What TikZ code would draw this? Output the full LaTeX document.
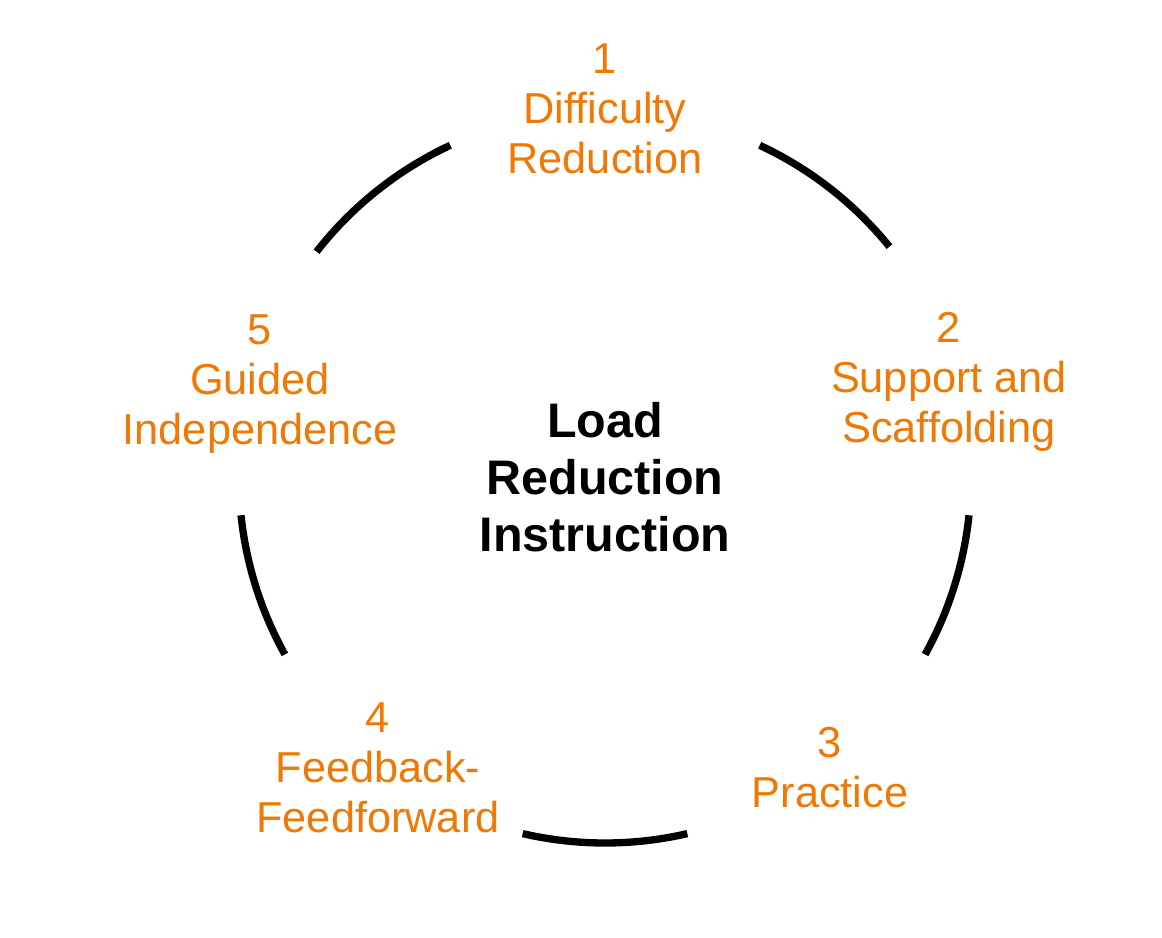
\documentclass[tikz,border=0pt]{standalone}
\usepackage{fontspec}
\setmainfont{Liberation Sans}
\usepackage{xcolor}
\usepackage{tikz}
\usetikzlibrary{positioning}
\definecolor{stageorange}{RGB}{240,120,4}
\newcommand{\Stage}[2]{#1\\#2}

\begin{document}
\begin{tikzpicture}[
    stage/.style={align=center, inner sep=+0pt, text=stageorange,
      font=\fontsize{30.8}{35.6}\selectfont},
    ring/.style={draw=black, line width=5.2pt, line cap=butt},
    thick
]
\useasboundingbox (-15.125,-11.525) rectangle (13.925,11.925);
\node[align=center, inner sep=+0pt, font=\fontsize{34.5}{40.4}\selectfont\bfseries] (C) {Load\\Reduction\\Instruction};
\node[stage] (S1) at (0,9.2) {\Stage{1}{Difficulty\\Reduction}};
\node[stage] (S2) at (8.6,2.375) {\Stage{2}{Support and\\Scaffolding}};
\node[stage] (S3) at (5.625,-7.275) {\Stage{3}{Practice}};
\node[stage] (S4) at (-5.675,-7.275) {\Stage{4}{Feedback-\\Feedforward}};
\node[stage] (S5) at (-8.625,2.325) {\Stage{5}{Guided\\Independence}};
% ring segments between the stages
\foreach \s/\e in {39/65,-29/-6,-103/-77,186/209,115/142}
  \draw[ring] (C.center) ++(\s:9.15) arc[start angle=\s, end angle=\e, radius=9.15];
\end{tikzpicture}
\end{document}
